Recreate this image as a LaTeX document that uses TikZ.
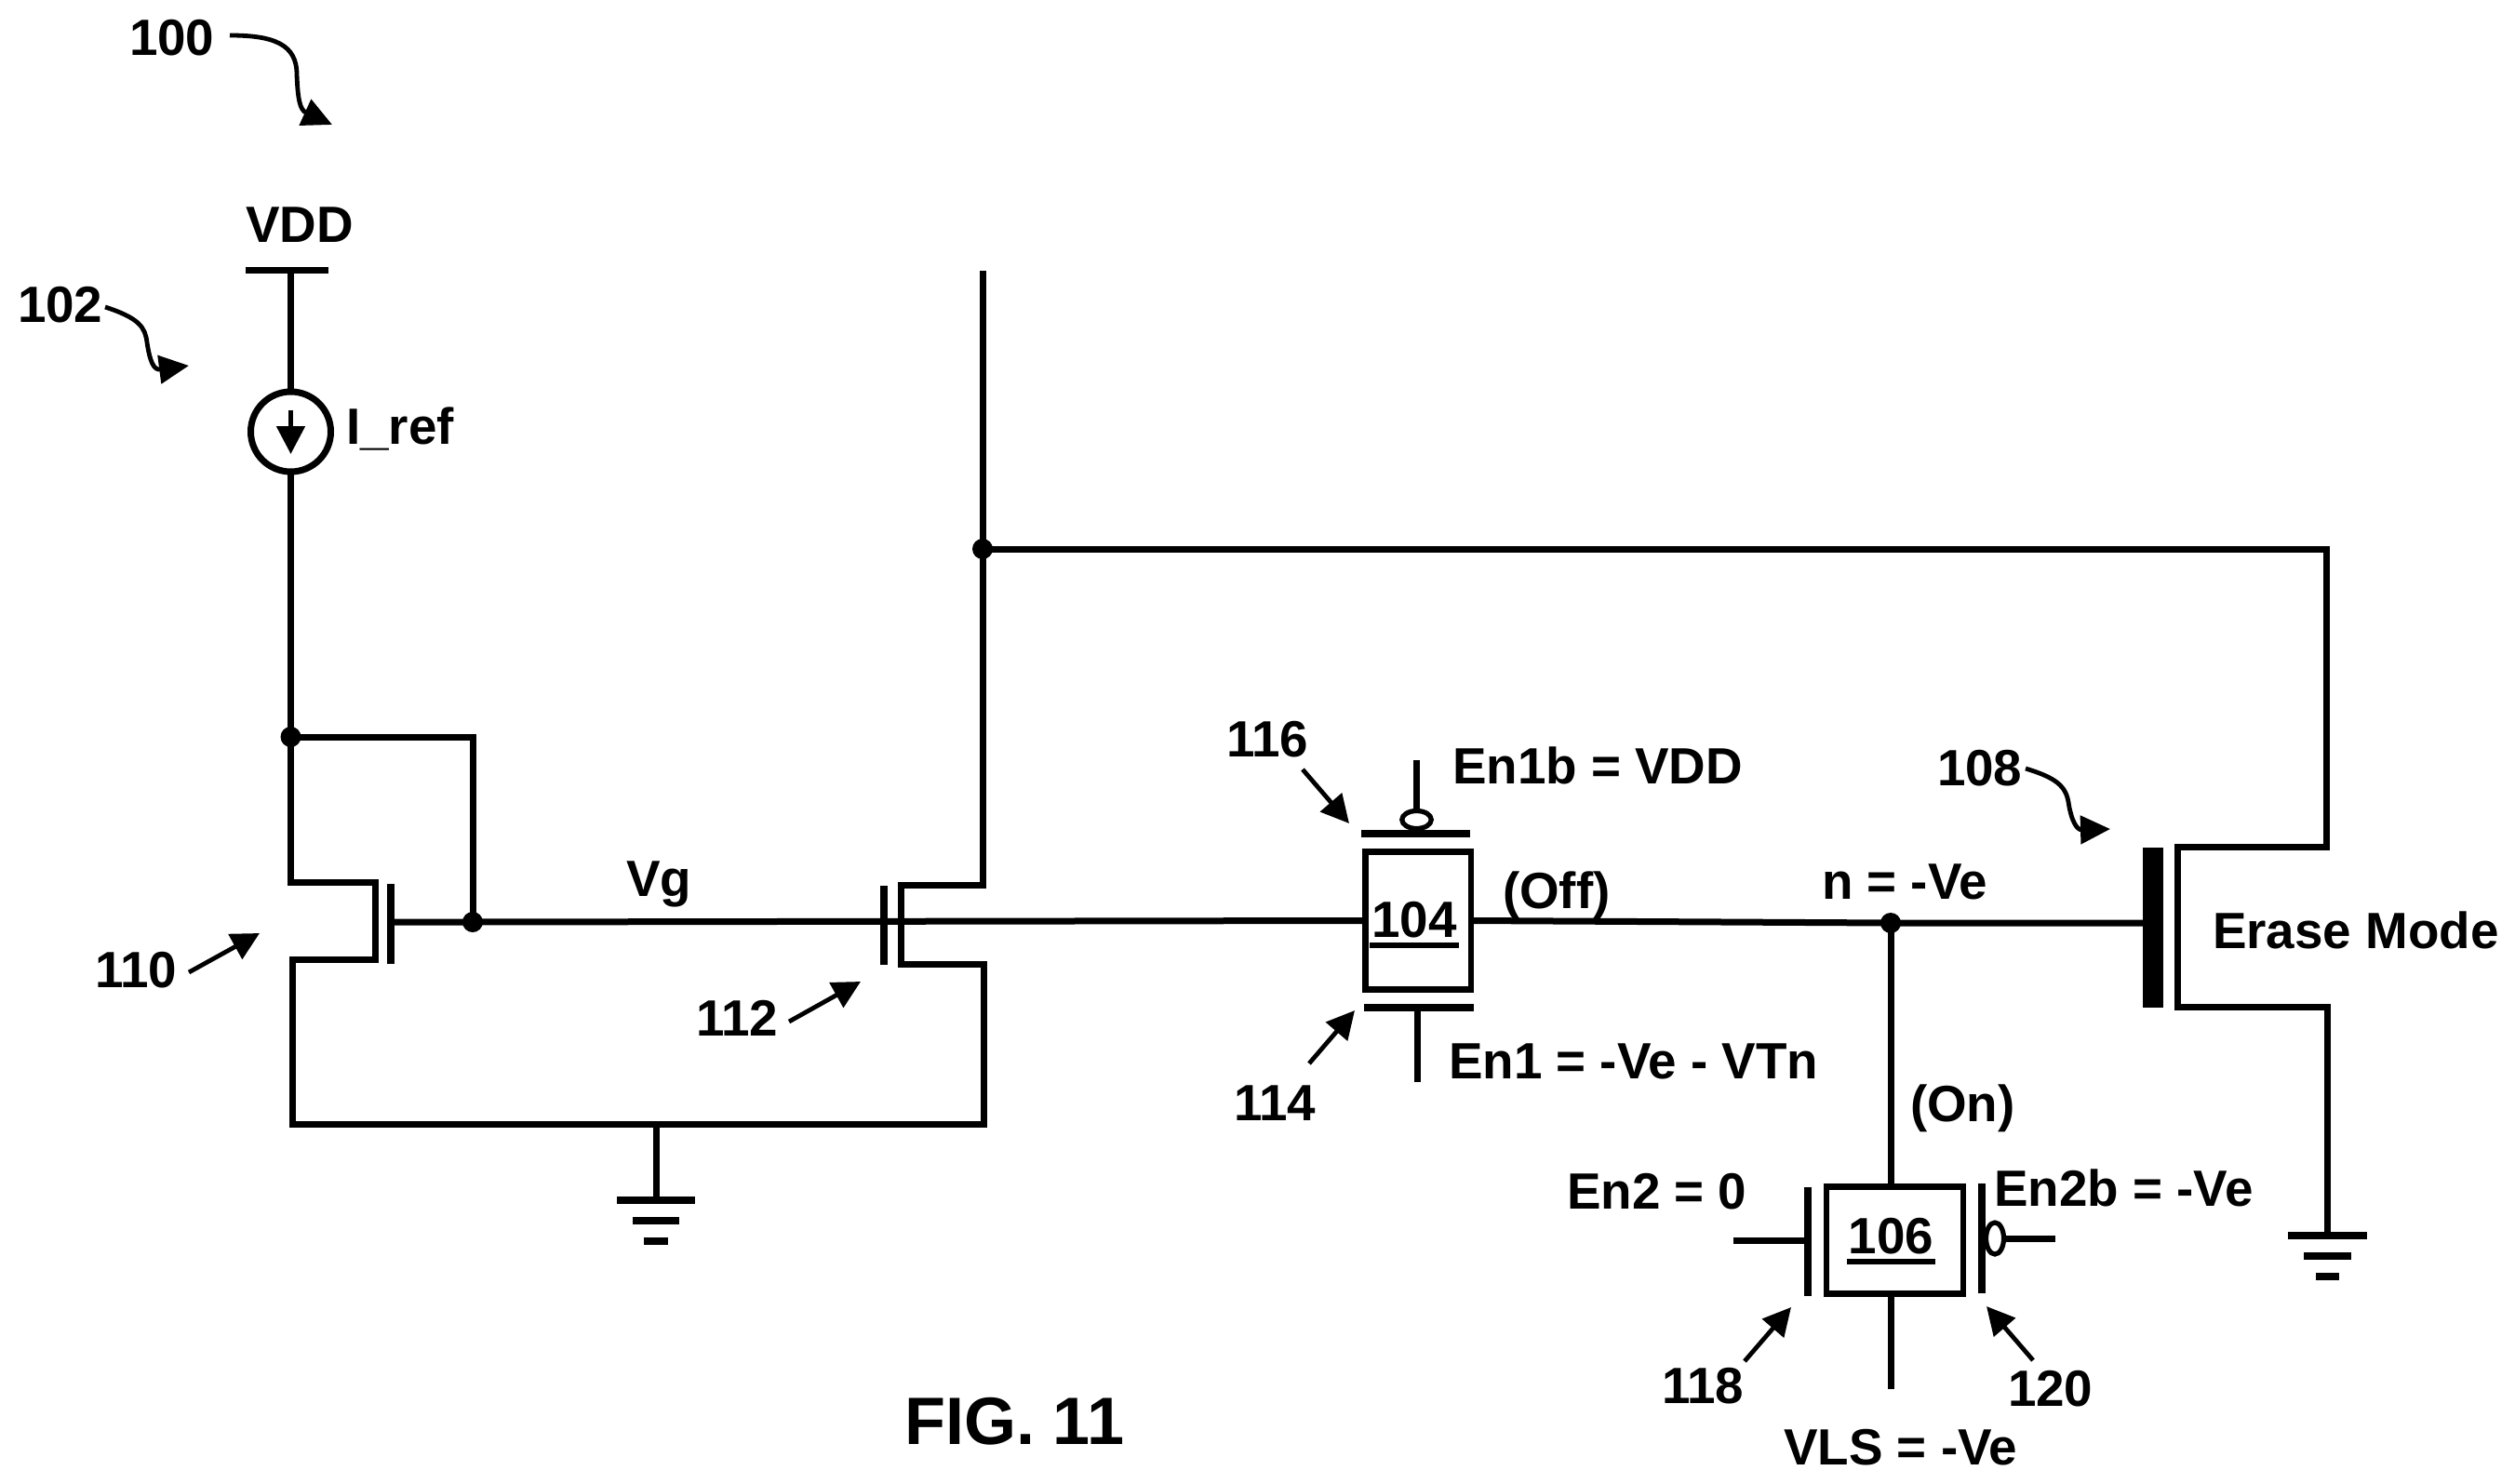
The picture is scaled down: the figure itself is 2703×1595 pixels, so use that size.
\documentclass[tikz,border=0pt]{standalone}
\usepackage{fontspec}
\setmainfont{Liberation Sans}
\usetikzlibrary{arrows.meta,shapes.geometric}
\newcommand\ulbl[1]{\setbox0=\hbox{#1}\leavevmode\rlap{\kern-1pt\rule[-6pt]{\dimexpr\wd0+2pt\relax}{3pt}}\box0}
\tikzset{
  wire/.style={line width=3.5pt,line cap=butt,line join=miter},
  plate/.style={line width=3.6pt},
  lab/.style={inner sep=0pt,outer sep=0pt,anchor=base west,font=\fontsize{27.4}{30}\selectfont\bfseries},
  figlab/.style={inner sep=0pt,outer sep=0pt,anchor=base west,font=\fontsize{36}{40}\selectfont\bfseries},
  dotn/.style={circle,fill=black,inner sep=0pt,minimum size=11pt},
  box/.style={draw,line width=3.4pt,rectangle,inner sep=0pt,outer sep=0pt},
  bub/.style={draw,line width=2.6pt,ellipse,inner sep=0pt,outer sep=0pt,fill=white},
  lead/.style={line width=2.4pt,-{Triangle[length=15pt,width=15pt]}},
  squig/.style={line width=2.4pt,-{Triangle[length=16pt,width=15pt]}},
  gbar/.style={line width=3.75pt}
}
\begin{document}
\begin{tikzpicture}[x=0.5pt,y=-0.5pt]
\useasboundingbox (0,0) rectangle (2703,1595);
% ---- labels
\node[lab] (t100) at (139,60) {100};
\node[lab] (t102) at (19,346) {102};
\node[lab] (tvdd) at (264,260) {VDD};
\node[lab] (tiref) at (372,477) {I\_ref};
\node[lab] (tvg) at (673,963) {Vg};
\node[lab] (t110) at (102,1061) {110};
\node[lab] (t112) at (748,1113) {112};
\node[lab] (t116) at (1318,813) {116};
\node[lab] (t114) at (1326,1204) {114};
\node[lab] (ten1b) at (1561,842) {En1b = VDD};
\node[lab] (ten1) at (1557,1159) {En1 = -Ve - VTn};
\node[lab] (toff) at (1615,976) {(Off)};
\node[lab] (tn) at (1958,966) {n = -Ve};
\node[lab] (t108) at (2082,844) {108};
\node[lab] (terase) at (2378,1019) {Erase Mode};
\node[lab] (ton) at (2053,1205) {(On)};
\node[lab] (ten2) at (1684,1299) {En2 = 0};
\node[lab] (ten2b) at (2143,1296) {En2b = -Ve};
\node[lab] (t118) at (1786,1508) {118};
\node[lab] (t120) at (2158,1511) {120};
\node[lab] (tvls) at (1917,1574) {VLS = -Ve};
\node[figlab] (tfig) at (972,1552) {FIG. 11};
% ---- coordinates
\coordinate (vddL) at (264,290); \coordinate (vddR) at (353,290);
\coordinate (vdd) at (312.5,290);
\node[draw,circle,line width=3.5pt,minimum size=43pt,inner sep=0pt,outer sep=0pt] (isrc) at (312.5,464) {};
\coordinate (iTop) at (312.5,441); \coordinate (iTip) at (312.5,488);
\node[dotn] (j1) at (312.5,792) {};
\node[dotn] (j2) at (508,991) {};
\node[dotn] (j3) at (1056,590) {};
\node[dotn] (j4) at (2032,992) {};
\coordinate (m1dT) at (403.5,948); \coordinate (m1dB) at (403.5,1031);
\coordinate (gl1T) at (420,950); \coordinate (gl1B) at (420,1036);
\coordinate (gl1) at (420,991);
\coordinate (gl2T) at (950,952); \coordinate (gl2B) at (950,1037);
\coordinate (ch2T) at (968,951); \coordinate (ch2B) at (968,1036);
\coordinate (railTop) at (1056,291);
\coordinate (gndL) at (314,1208); \coordinate (gndR) at (1057,1208);
\coordinate (gndS) at (705,1208);
% pass gate 104
\node[box,minimum width=56.75pt,minimum height=74pt] (n104) at (1524.25,989.5) {};
\node[lab,anchor=base] (t104) at (1520,1007) {\ulbl{104}};
\coordinate (p1L) at (1463,896); \coordinate (p1R) at (1580,896);
\node[bub,minimum width=15.75pt,minimum height=9.5pt] (b1) at (1522.5,881) {};
\coordinate (s1T) at (1522.5,817);
\coordinate (p2L) at (1466,1083); \coordinate (p2R) at (1584,1083);
\coordinate (s2c) at (1523,1083); \coordinate (s2B) at (1523,1163);
% pass gate 106
\node[box,minimum width=73.5pt,minimum height=57.75pt] (n106) at (2036.5,1333) {};
\node[lab,anchor=base] (t106) at (2032.5,1347) {\ulbl{106}};
\coordinate (q1T) at (1943,1276); \coordinate (q1B) at (1943,1393);
\coordinate (q1S) at (1863,1333); \coordinate (q1E) at (1943,1333);
\coordinate (q2T) at (2130,1272); \coordinate (q2B) at (2130,1390);
\node[bub,minimum width=9.5pt,minimum height=17pt] (b2) at (2144,1331) {};
\coordinate (q2S) at (2209,1331);
\coordinate (vlsB) at (2032.5,1493);
% erase transistor
\coordinate (e1T) at (2314,911); \coordinate (e1B) at (2314,1083);
\coordinate (e1) at (2303,992);
\coordinate (ch3T) at (2340,910); \coordinate (ch3B) at (2340,1082);
\coordinate (dR) at (2500,590);
\coordinate (gb2) at (2501,1328);
\coordinate (g1c) at (705,1290);
% ---- wiring
\draw[wire] (vddL) -- (vddR);
\draw[wire] (vdd) -- (isrc.north);
\draw[wire] (isrc.south) -- (j1.center) -- (j1.center |- m1dT) -- (m1dT) -- (m1dB) -- (gndL |- m1dB) -- (gndL) -- (gndR) -- (gndR |- ch2B) -- (ch2B) -- (ch2T) -- (railTop |- ch2T) -- (railTop);
\draw[wire] (j1.center) -- (j1.center -| j2.center) -- (j2.center);
\draw[plate] (gl1T) -- (gl1B);
\draw[wire] (gl1) -- (j2.center) -- (n104.west);
\draw[plate] (gl2T) -- (gl2B);
\draw[wire] (n104.east) -- (j4.center) -- (e1);
\draw[wire] (j3.center) -- (dR) -- (dR |- ch3T) -- (ch3T) -- (ch3B) -- (gb2 |- ch3B) -- (gb2);
\draw[line width=11pt] (e1T) -- (e1B);
\draw[wire] (j4.center) -- (n106.north -| j4.center);
\draw[wire] (n106.south -| vlsB) -- (vlsB);
% current source arrow
\draw[line width=2.6pt,-{Triangle[length=15pt,width=15pt]}] (iTop) -- (iTip);
% 104 gates
\draw[plate] (p1L) -- (p1R);
\draw[plate] (p2L) -- (p2R);
\draw[wire] (s1T) -- (b1.north);
\draw[wire] (s2c) -- (s2B);
% 106 gates
\draw[plate] (q1T) -- (q1B);
\draw[plate] (q2T) -- (q2B);
\draw[wire] (q1S) -- (q1E);
\draw[wire] (b2.east) -- (q2S);
% ground 1
\draw[wire] (gndS) -- (g1c);
\draw[gbar] (663,1290) -- (747,1290);
\draw[gbar] (680,1312) -- (730,1312);
\draw[gbar] (692,1334) -- (718,1334);
% ground 2
\draw[gbar] (2459,1328) -- (2544,1328);
\draw[gbar] (2476,1350) -- (2527,1350);
\draw[gbar] (2489,1372) -- (2514,1372);
% ---- reference arrows
\coordinate (a100) at (247,38); \coordinate (a100t) at (357,134);
\draw[squig] (a100) .. controls (295,38) and (319,48) .. (319,80) .. controls (320,105) and (322,118) .. (a100t);
\coordinate (a102) at (113,330); \coordinate (a102t) at (203,393);
\draw[squig] (a102) .. controls (150,342) and (156,352) .. (158,368) .. controls (161,388) and (165,398) .. (a102t);
\coordinate (a108) at (2177,826); \coordinate (a108t) at (2268,891);
\draw[squig] (a108) .. controls (2210,836) and (2220,845) .. (2223,862) .. controls (2226,882) and (2232,892) .. (a108t);
\draw[lead] (203,1045) -- (279,1003);
\draw[lead] (848,1098) -- (925,1055);
\draw[lead] (1400,827) -- (1450,885);
\draw[lead] (1407,1143) -- (1456,1086);
\draw[lead] (1875,1463) -- (1925,1405);
\draw[lead] (2185,1462) -- (2135,1404);
\end{tikzpicture}
\end{document}
